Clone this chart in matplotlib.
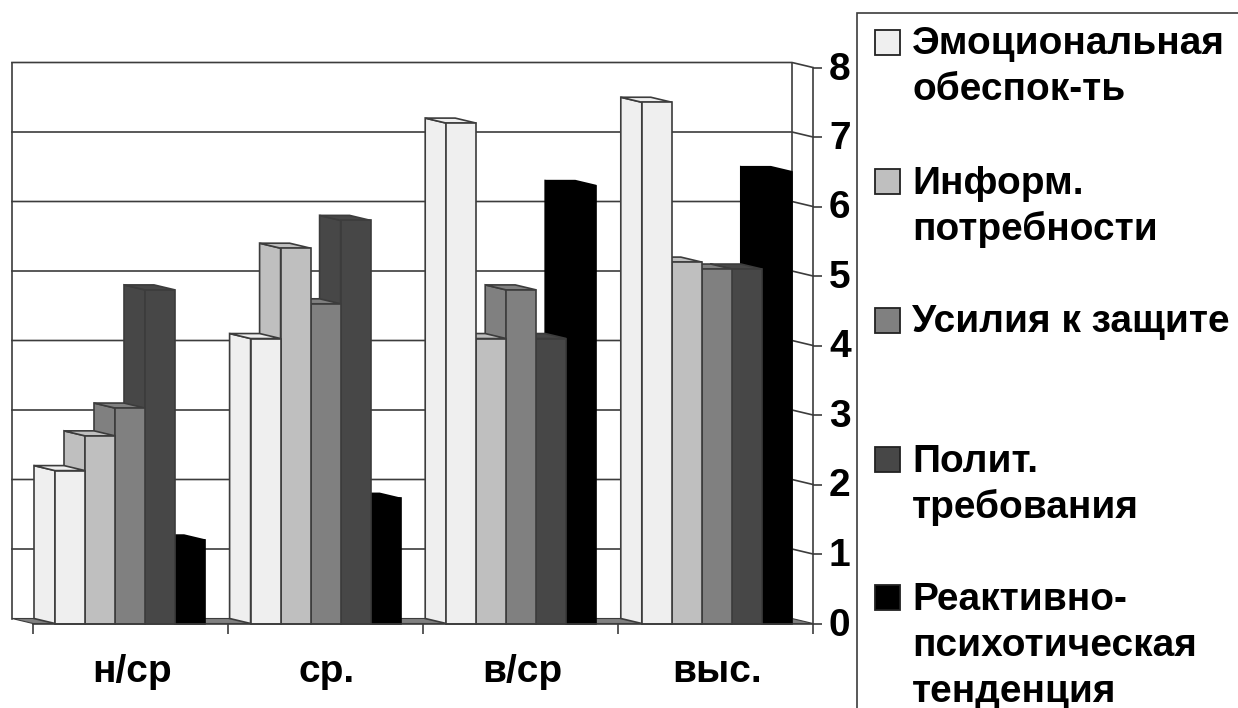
import matplotlib
matplotlib.use('Agg')
import matplotlib.pyplot as plt
from matplotlib.patches import Rectangle
from matplotlib.transforms import ScaledTranslation

categories = ['н/ср', 'ср.', 'в/ср', 'выс.']
series_names = ['Эмоциональная\nобеспок-ть', 'Информ.\nпотребности', 'Усилия к защите',
                'Полит.\nтребования', 'Реактивно-\nпсихотическая\nтенденция']
emotional = [2.2, 4.1, 7.2, 7.5]
inform = [2.7, 5.4, 4.1, 5.2]
effort = [3.1, 4.6, 4.8, 5.1]
polit = [4.8, 5.8, 4.1, 5.1]
reactive = [1.2, 1.8, 6.3, 6.5]
series = [emotional, inform, effort, polit, reactive]
colors = ['#efefef', '#bfbfbf', '#808080', '#474747', '#000000']

W, H = 1238, 708
plt.rcParams['font.family'] = ['Liberation Sans', 'DejaVu Sans']
plt.rcParams['font.weight'] = 'bold'
line_c = '#3c3c3c'

fig = plt.figure(figsize=(W / 100, H / 100), dpi=100)
# front plane of the chart, x 33..813, y 67.5..623.5 in pixels
ax = fig.add_axes([33 / W, 1 - 623.5 / H, 780 / W, 556 / H])
ax.set_xlim(0, 4)
ax.set_ylim(0, 8)

# depth of the fake 3d, in data units
dx = -21 / 195
dy = 5 / 69.5
bw = 30 / 195
start = 22 / 195
group_step = 195.6 / 195

# back wall and grid
for v in range(0, 9):
    if v > 0:
        ax.plot([dx, 4 + dx, 4], [v + dy, v + dy, v], color=line_c, lw=1.2, zorder=1, clip_on=False)
ax.plot([dx, dx], [dy, 8 + dy], color=line_c, lw=1.2, zorder=1, clip_on=False)
ax.plot([4 + dx, 4 + dx], [dy, 8 + dy], color=line_c, lw=1.2, zorder=1, clip_on=False)
# floor
ax.fill([dx, 0, 4, 4 + dx], [dy, 0, 0, dy], facecolor='#808080', edgecolor=line_c, lw=0.8, zorder=2, clip_on=False)

# bars, right ones first so the front face covers the side of the next one
for s in range(4, -1, -1):
    z = 10 + (4 - s) * 3
    ec = '#000000' if s == 4 else line_c
    for c, v in enumerate(series[s]):
        x0 = c * group_step + start + s * bw
        ax.fill([x0 + dx, x0, x0, x0 + dx], [dy, 0, v, v + dy], facecolor=colors[s], edgecolor=ec, lw=1.2, zorder=z, clip_on=False)
        ax.fill([x0 + dx, x0 + dx + bw, x0 + bw, x0], [v + dy, v + dy, v, v], facecolor=colors[s], edgecolor=ec, lw=1.2, zorder=z + 1, clip_on=False)
        ax.bar(x0, v, bw, align='edge', color=colors[s], edgecolor=ec, lw=1.2, zorder=z + 2, clip_on=False)

for side in ['top', 'left']:
    ax.spines[side].set_visible(False)
for side in ['right', 'bottom']:
    ax.spines[side].set_color(line_c)
    ax.spines[side].set_linewidth(1.2)
    ax.spines[side].set_zorder(40)

ax.yaxis.tick_right()
ax.set_yticks(range(0, 9))
ax.tick_params(axis='y', length=6.5, width=1.2, color=line_c, labelsize=28, pad=5)
ax.set_xticks(range(0, 5))
ax.set_xticklabels([])
ax.set_xticks([i + 0.5 for i in range(4)], labels=categories, minor=True)
ax.tick_params(axis='x', which='major', length=7, width=1.2, color=line_c)
ax.tick_params(axis='x', which='minor', length=0, labelsize=28, pad=22)

# nudge tick labels a couple of pixels
for t in ax.get_yticklabels():
    t.set_transform(t.get_transform() + ScaledTranslation(0, 2 / 100, fig.dpi_scale_trans))
for t in ax.get_xticklabels(minor=True):
    t.set_transform(t.get_transform() + ScaledTranslation(1.5 / 100, 0, fig.dpi_scale_trans))

# legend box runs off the picture on the right and bottom
leg = fig.add_axes([0, 0, 1, 1], facecolor='none')
leg.set_xlim(0, W)
leg.set_ylim(H, 0)
leg.axis('off')
leg.add_patch(Rectangle((857, 13), 420, 740, facecolor='white', edgecolor=line_c, lw=1.2))
marker_y = [42, 181, 320, 459, 597]
for name, col, my in zip(series_names, colors, marker_y):
    leg.add_patch(Rectangle((875, my - 12.5), 25, 25, facecolor=col, edgecolor='#222222', lw=1.3))
    for i, line in enumerate(name.split('\n')):
        leg.text(912, my + 12.5 + i * 46, line, fontsize=28, va='baseline', ha='left', color='black')

fig.savefig('out.png', dpi=100, facecolor='white')
